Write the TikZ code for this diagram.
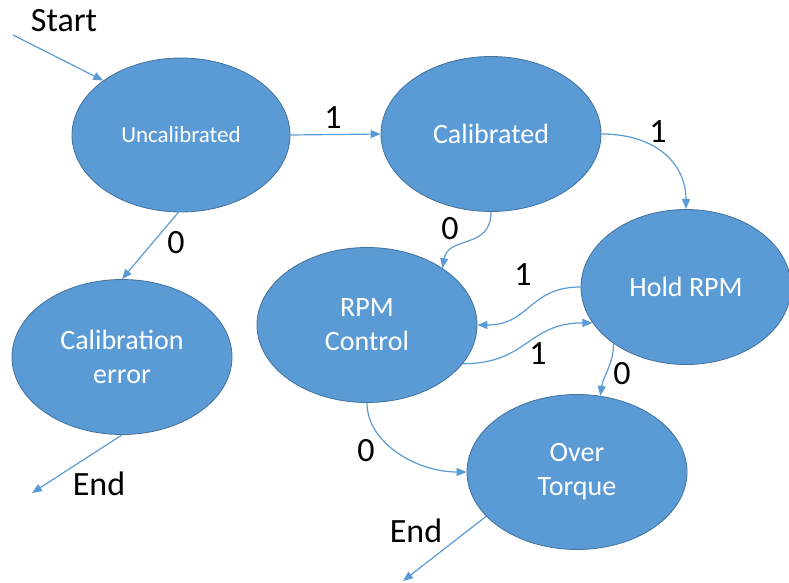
\documentclass[tikz,border=0pt]{standalone}
\usepackage{fontspec}
\setmainfont{Carlito}
\usetikzlibrary{shapes.geometric,arrows.meta}
\definecolor{stateblue}{HTML}{5B9BD5}
\definecolor{stateedge}{HTML}{41719C}
\tikzset{
  state/.style={ellipse, fill=stateblue, draw=stateedge, line width=0.8pt,
    text=white, inner sep=0pt, align=center,
    minimum width=220pt, minimum height=155pt,
    font=\fontsize{28}{34}\selectfont},
  conn/.style={draw=stateblue, line width=1.2pt,
    -{Triangle[length=10pt,width=8pt]}},
  lbl/.style={text=black, inner sep=0pt, font=\fontsize{34}{40}\selectfont},
}
\begin{document}
\begin{tikzpicture}[x=1pt,y=-1pt]
\useasboundingbox (0,0) rectangle (789,583);

% states
\node[state, minimum width=218pt, minimum height=154pt,
      font=\fontsize{23}{28}\selectfont] (unc) at (181,135) {Uncalibrated};
\node[state] (cal)    at (491,134) {Calibrated};
\node[state, minimum width=210pt] (hold) at (686,287) {Hold RPM};
\node[state] (rpm)    at (367,325) {RPM\\Control};
\node[state] (calerr) at (122,357) {Calibration\\error};
\node[state] (over)   at (577,472) {Over\\Torque};

% free ends
\coordinate (s0) at (13,35);
\coordinate (e1) at (32,493);
\coordinate (e2) at (403,581);

% transitions
\draw[conn] (s0) -- (unc.145);
\draw[conn] (unc.east) -- (cal.west);
\draw[conn] (cal.east) .. controls +(55,0) and +(0,-45) .. (hold.north);
\draw[conn] (cal.south) .. controls +(0,38) and +(6,-33) .. (rpm.37);
\draw[conn] (unc.268) -- (calerr.north);
\draw[conn] (hold.west) .. controls +(-52,0) and +(53,0) .. (rpm.east);
\draw[conn] (rpm.338) .. controls +(65,0) and +(-65,0) .. (hold.201);
\draw[conn] (hold.218) .. controls +(0,20) and +(3,-20) .. (over.73);
\draw[conn] (rpm.south) .. controls +(0,40) and +(-50,0) .. (over.west);
\draw[conn] (calerr.south) -- (e1);
\draw[conn] (over.206) -- (e2);

% labels
\node[lbl] (tstart) at (64,21) {Start};
\node[lbl] (t1a) at (333,118) {1};
\node[lbl] (t1b) at (658,132) {1};
\node[lbl] (t0a) at (176,243) {0};
\node[lbl] (t0b) at (450,229) {0};
\node[lbl] (t1c) at (523,275) {1};
\node[lbl] (t1d) at (538,354) {1};
\node[lbl] (t0c) at (622,374) {0};
\node[lbl] (t0d) at (366,451) {0};
\node[lbl] (tend1) at (99,484) {End};
\node[lbl] (tend2) at (416,531) {End};
\end{tikzpicture}
\end{document}
